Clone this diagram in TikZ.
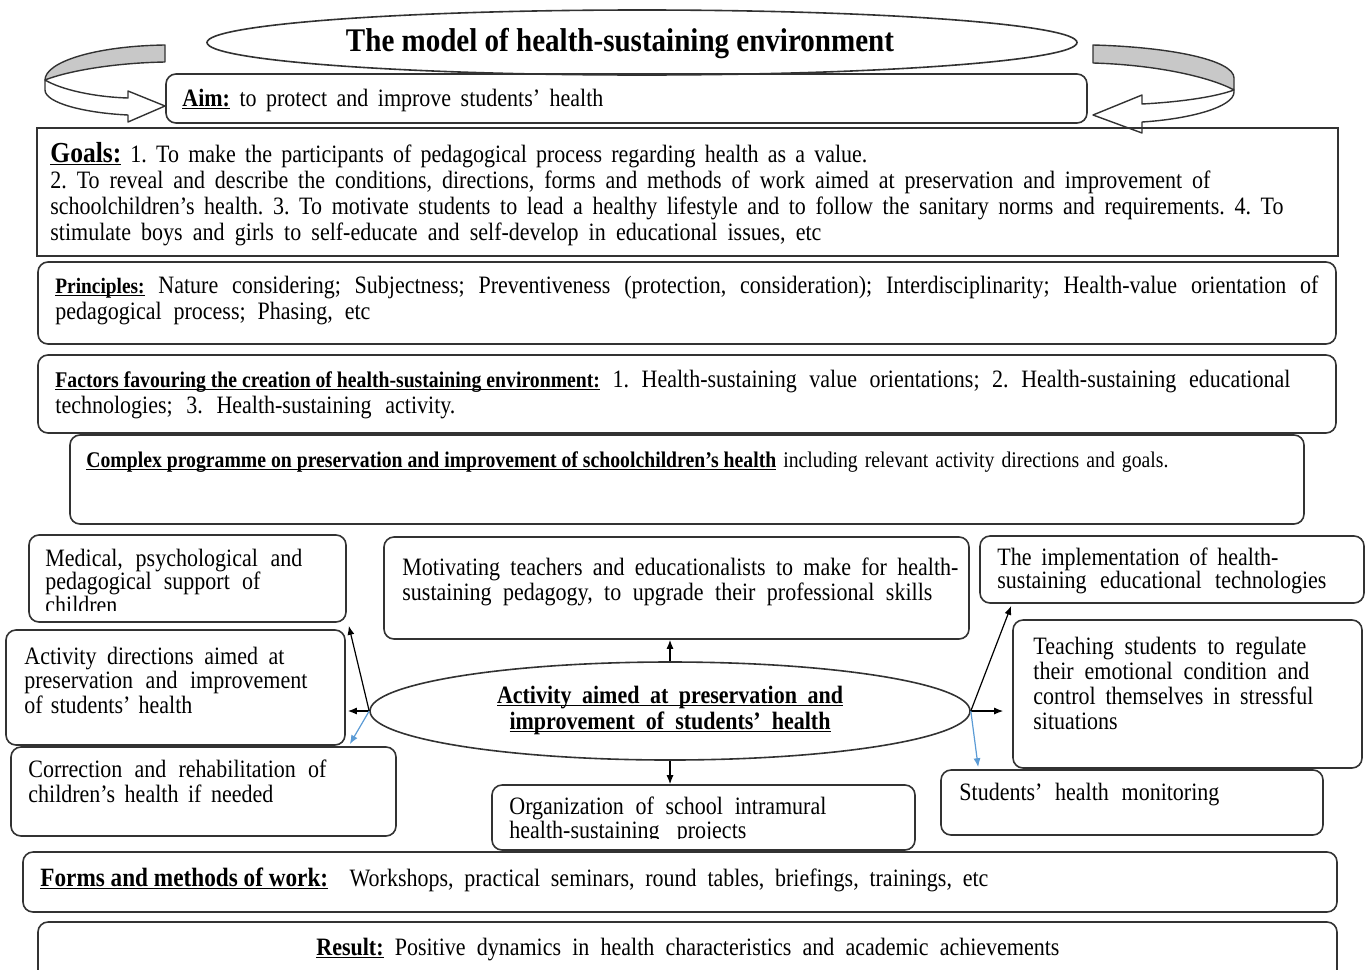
\documentclass[tikz,border=0pt]{standalone}
\usepackage{fontspec}
\setmainfont{Liberation Serif}[FakeStretch=0.88]
\usetikzlibrary{shapes.geometric,fit,arrows.meta,calc}

\definecolor{arrblue}{RGB}{91,155,213}
\definecolor{ribbongray}{RGB}{200,200,200}
\definecolor{linegray}{RGB}{50,50,50}

% a line spread to a given width (in px of the drawing grid)
\newcommand{\jl}[2]{\makebox[\dimexpr #1pt/2\relax][s]{#2}}
% bold heading with a flat underline just below the baseline
\newsavebox\ulbox
\newcommand{\hd}[1]{\sbox\ulbox{\bfseries #1}\rlap{\rule[-1.6pt]{\wd\ulbox}{0.6pt}}\usebox\ulbox}

\begin{document}
\frenchspacing
\begin{tikzpicture}[x=0.5pt,y=-0.5pt,
  rbox/.style={draw=linegray, line width=0.8pt, rounded corners=5pt, inner sep=0pt},
  sbox/.style={draw=linegray, line width=1.4pt, inner sep=0pt},
  oval/.style={ellipse, draw=linegray, line width=0.8pt, inner sep=0pt},
  txt/.style={anchor=base west, inner sep=0pt, align=left, font=\fontsize{12.5}{#1}\selectfont},
  txt/.default=13pt,
  arr/.style={-{Latex[length=4.5pt,width=3.5pt]}, line width=0.6pt, draw=black},
  barr/.style={-{Latex[length=4.5pt,width=3.5pt]}, line width=0.6pt, draw=arrblue},
  ribbon/.style={draw=linegray, line width=0.7pt, line join=round}]
\useasboundingbox (0,0) rectangle (1368,969);

% ---- turning ribbons on both sides of the aim
\filldraw[ribbon, fill=ribbongray] (165,45) .. controls (95,46) and (45,62) .. (45,80)
  .. controls (65,72) and (110,63) .. (165,62) -- cycle;
\filldraw[ribbon, fill=white] (45,80) .. controls (62,90) and (95,97) .. (128,98)
  -- (128,91) -- (165,106) -- (128,122) -- (128,115)
  .. controls (85,113) and (45,103) .. (45,90) -- cycle;
\filldraw[ribbon, fill=ribbongray] (1093,45) .. controls (1170,47) and (1234,60) .. (1234,78)
  -- (1234,90) .. controls (1212,78) and (1160,65) .. (1093,63) -- cycle;
\filldraw[ribbon, fill=white] (1234,90) .. controls (1215,97) and (1180,102) .. (1142,104)
  -- (1142,95) -- (1093,115) -- (1142,133) -- (1142,122)
  .. controls (1190,119) and (1234,107) .. (1234,92) -- cycle;

% ---- title
\node[oval, minimum width=435pt, minimum height=32.5pt] (title) at (642,42.5) {};
\node[anchor=base, inner sep=0pt, font=\fontsize{16.5}{17}\selectfont\bfseries] (titleT) at (620,51)
  {The model of health-sustaining environment};

% ---- frames
\node[rbox, fit={(166,74) (1087,123)}] (aim) {};
\node[sbox, fit={(37,128) (1338,256)}] (goals) {};
\node[rbox, fit={(38,262) (1336,344)}] (prin) {};
\node[rbox, fit={(38,355) (1336,433)}] (fact) {};
\node[rbox, fit={(70,435) (1304,524)}] (prog) {};
\node[rbox, fit={(29,535) (346,622)}] (med) {};
\node[rbox, fit={(384,537) (969,639)}] (mot) {};
\node[rbox, fit={(980,536) (1364,603)}] (impl) {};
\node[rbox, fit={(6,630) (345,745)}] (dir) {};
\node[oval, minimum width=300pt, minimum height=49pt] (act) at (670,711) {};
\node[rbox, fit={(1013,620) (1362,768)}] (teach) {};
\node[rbox, fit={(11,747) (396,836)}] (corr) {};
\node[rbox, fit={(492,785) (915,850)}] (org) {};
\node[rbox, fit={(941,770) (1323,835)}] (mon) {};
\node[rbox, fit={(23,852) (1337,912)}] (forms) {};
\node[rbox, fit={(38,922) (1337,985)}] (res) {};

% ---- texts (a text node's base is the baseline of its last line)
\node[txt] (aimT) at (182,106) {\jl{421}{\hd{Aim:} to protect and improve students’ health}};
\node[txt] (goalsT) at (50,240) {%
  \jl{817}{{\fontsize{14.5}{13}\selectfont\hd{Goals:}} 1. To make the participants of pedagogical process regarding health as a value.}\\
  \jl{1160}{2. To reveal and describe the conditions, directions, forms and methods of work aimed at preservation and improvement of}\\
  \jl{1233}{schoolchildren’s health. 3. To motivate students to lead a healthy lifestyle and to follow the sanitary norms and requirements. 4. To}\\
  \jl{771}{stimulate boys and girls to self-educate and self-develop in educational issues, etc}};
\node[txt] (prinT) at (55,319) {%
  \jl{1263}{{\fontsize{11}{13}\selectfont\hd{Principles:}} Nature considering; Subjectness; Preventiveness (protection, consideration); Interdisciplinarity; Health-value orientation of}\\
  \jl{315}{pedagogical process; Phasing, etc}};
\node[txt] (factT) at (55,413) {%
  \jl{1235}{{\fontsize{11.2}{13}\selectfont\hd{Factors favouring the creation of health-sustaining environment:}} 1. Health-sustaining value orientations; 2. Health-sustaining educational}\\
  \jl{400}{technologies; 3. Health-sustaining activity.}};
\node[txt, font=\fontsize{11.2}{12}\selectfont] (progT) at (86,467) {%
  \jl{1082}{\hd{Complex programme on preservation and improvement of schoolchildren’s health} including relevant activity directions and goals.}};

\begin{scope}
  \clip (29,535) rectangle (346,610);
  \node[txt=11.75pt] (medT) at (45,613) {%
    \jl{257}{Medical, psychological and}\\
    \jl{215}{pedagogical support of}\\
    children};
\end{scope}
\node[txt=12.5pt] (motT) at (402,600) {%
  \jl{556}{Motivating teachers and educationalists to make for health-}\\
  \jl{530}{sustaining pedagogy, to upgrade their professional skills}};
\node[txt=11.5pt] (implT) at (997,588) {%
  \jl{281}{The implementation of health-}\\
  \jl{329}{sustaining educational technologies}};
\node[txt=12.25pt] (dirT) at (24,713) {%
  \jl{260}{Activity directions aimed at}\\
  \jl{283}{preservation and improvement}\\
  \jl{168}{of students’ health}};
\node[anchor=base, inner sep=0pt, align=center, font=\fontsize{12.5}{13}\selectfont] (actT) at (670,729) {%
  \hd{\jl{346}{Activity aimed at preservation and}}\\
  \hd{\jl{321}{improvement of students’ health}}};
\node[txt=12.5pt] (teachT) at (1033,729) {%
  \jl{273}{Teaching students to regulate}\\
  \jl{276}{their emotional condition and}\\
  \jl{280}{control themselves in stressful}\\
  situations};
\node[txt=12.5pt] (corrT) at (28,802) {%
  \jl{298}{Correction and rehabilitation of}\\
  \jl{245}{children’s health if needed}};
\begin{scope}
  \clip (492,785) rectangle (915,838);
  \node[txt=12pt] (orgT) at (509,838) {%
    \jl{317}{Organization of school intramural}\\
    \jl{237}{health-sustaining projects}};
\end{scope}
\node[txt] (monT) at (959,800) {\jl{260}{Students’ health monitoring}};
\node[txt] (formsT) at (40,886) {%
  \jl{948}{{\fontsize{13.2}{13}\selectfont\hd{Forms and methods of work:}}\ \ Workshops, practical seminars, round tables, briefings, trainings, etc}};
\node[txt] (resT) at (316,955) {%
  \jl{743}{\hd{Result:} Positive dynamics in health characteristics and academic achievements}};

% ---- connectors from the central activity
\draw[arr] (act.west) -- ($(med.south east)+(2,3)$);
\draw[arr] (act.west) -- ($(act.west -| dir.east)+(2,0)$);
\draw[barr] (act.west) -- ($(corr.north east)+(-47,-2)$);
\draw[arr] (act.north) -- (act.north |- mot.south);
\draw[arr] (act.south) -- (act.south |- org.north);
\draw[arr] (act.east) -- ($(impl.south west)+(32,2)$);
\draw[arr] (act.east) -- ($(act.east -| teach.west)+(-9,0)$);
\draw[barr] (act.east) -- ($(mon.north west)+(38,-2)$);
\end{tikzpicture}
\end{document}
